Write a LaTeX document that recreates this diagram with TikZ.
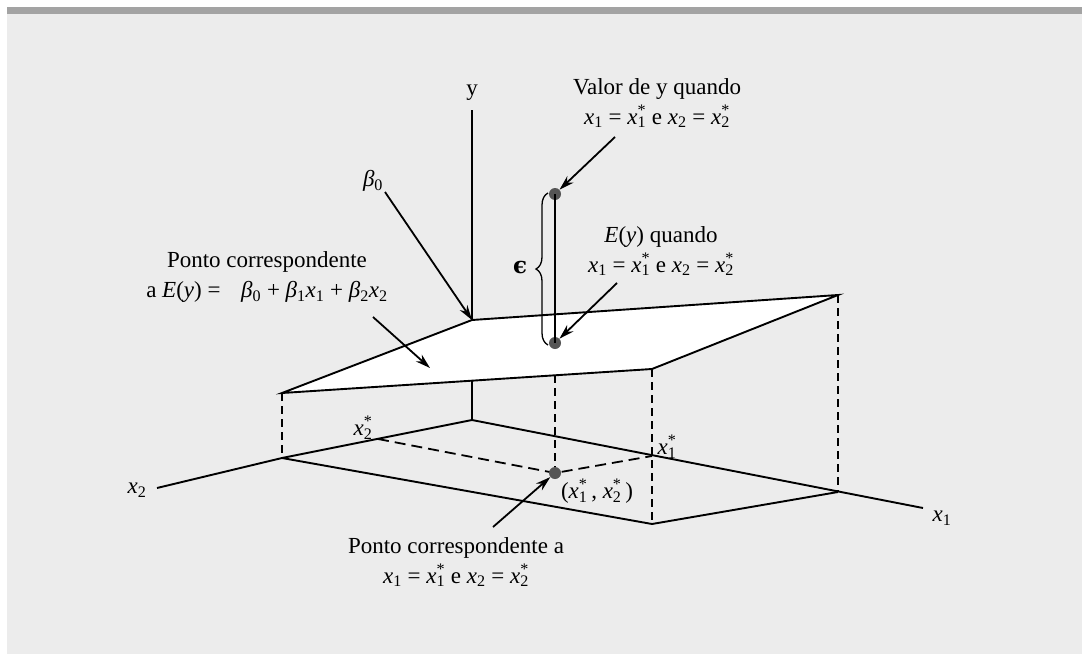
\documentclass[tikz,border=0pt]{standalone}
\usepackage{fontspec}
\setmainfont{Liberation Serif}
\newfontfamily\dvs{DejaVu Serif}
\usetikzlibrary{arrows.meta,decorations.pathreplacing}
\definecolor{bgl}{HTML}{ECECEC}
\definecolor{bar}{HTML}{A3A3A3}
\definecolor{pt}{HTML}{555555}
\newcommand{\vx}[1]{\textit{x}\textsubscript{#1}}
\newcommand{\vxs}[1]{\textit{x}\rlap{\textsuperscript{*}}\textsubscript{#1}}
\newcommand{\eqln}{\vx{1} = \vxs{1} e \vx{2} = \vxs{2}}
\newcommand{\bt}[1]{\textit{β}\textsubscript{#1}}
\tikzset{
  ax/.style={line width=1.9pt},
  dsh/.style={line width=1.8pt, dash pattern=on 8pt off 5pt},
  dshh/.style={line width=1.8pt, dash pattern=on 11pt off 6pt},
  arr/.style={line width=1.8pt, -{Stealth[length=15pt,width=9pt]}},
  lbl/.style={inner sep=0pt, font=\fontsize{23}{30}\selectfont, align=center},
  dot/.style={circle, fill=pt, inner sep=0pt, minimum size=12pt},
}
\begin{document}
\begin{tikzpicture}[x=1pt,y=-1pt]
\useasboundingbox (0,0) rectangle (1082,656);
\fill[white] (0,0) rectangle (1082,656);
\fill[bgl] (7,13) rectangle (1082,654);
\fill[bar] (7,7) rectangle (1082,13.5);
% key points
\coordinate (O) at (472,420);
\coordinate (ytop) at (472,110);
\coordinate (L) at (282,458);
\coordinate (x2end) at (157,488);
\coordinate (F) at (652,524);
\coordinate (R) at (838,492);
\coordinate (x1end) at (923,508);
\coordinate (x2s) at (378,439);
\coordinate (x1s) at (652,456);
\coordinate (PB) at (472,320);
\coordinate (PL) at (282,393);
\coordinate (PF) at (652,369);
\coordinate (PR) at (838,295);
\coordinate (mid) at (555,375);
% axes
\draw[ax] (ytop) -- (O);
\draw[ax] (x2end) -- (L) -- (O) -- (x1end);
\draw[ax] (L) -- (F) -- (R);
% dashed
\draw[dsh] (PL) -- (L);
\draw[dsh] (PF) -- (F);
\draw[dsh] (PR) -- (R);
\draw[dshh] (x2s) -- (555,473) -- (x1s);
\draw[dsh] (mid) -- (555,473);
% plane
\draw[ax, fill=white, line join=miter] (PB) -- (PR) -- (PF) -- (PL) -- cycle;
% vertical segment and points
\node[dot] (Yv) at (555,194) {};
\node[dot] (Ey) at (555,343) {};
\node[dot] (P) at (555,473) {};
\draw[line width=2.2pt] (Yv.center) -- (Ey.center);
\draw[line width=1.3pt, decorate, decoration={brace, amplitude=12pt}] (548,345) -- (548,193);
\node[lbl] (eps) at (520,268) {\dvs\bfseries ϵ};
% labels
\node[lbl] (ylab) at (472,93) {y};
\node[lbl] (x1lab) at (942,518) {\vx{1}};
\node[lbl] (x2lab) at (137,490) {\vx{2}};
\node[lbl] (x2slab) at (365,428) {\vxs{2}\,};
\node[lbl] (x1slab) at (669,447) {\vxs{1}\,};
\node[lbl] (plab) at (597,491) {(\vxs{1}\,, \vxs{2}\,)};
\node[lbl] (b0) at (373,181) {\bt{0}};
\node[lbl] (valor) at (657,103) {Valor de y quando\\\eqln};
\node[lbl] (eyq) at (661,251) {\textit{E}(\textit{y}) quando\\\eqln};
\node[lbl] (pcorr) at (267,277) {Ponto correspondente\\a \textit{E}(\textit{y}) =\hspace{0.9em}\bt{0} + \bt{1}\vx{1} + \bt{2}\vx{2}};
\node[lbl] (pca) at (456,562) {Ponto correspondente a\\\eqln};
% arrows
\coordinate (a1) at (615,137);
\coordinate (a2) at (617,283);
\coordinate (a3) at (385,192);
\coordinate (a4) at (373,317);
\coordinate (a4e) at (430,368);
\coordinate (a5) at (493,527);
\draw[arr] (a1) -- (Yv);
\draw[arr] (a2) -- (Ey);
\draw[arr] (a3) -- (PB);
\draw[arr] (a4) -- (a4e);
\draw[arr] (a5) -- (P);
\end{tikzpicture}
\end{document}
